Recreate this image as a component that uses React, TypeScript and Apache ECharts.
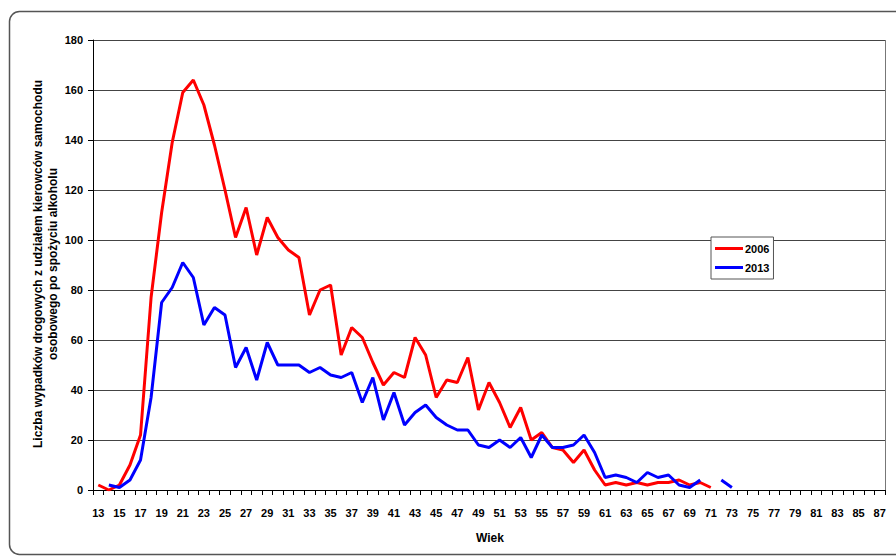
import React, { useEffect, useRef } from "react";
import * as echarts from "echarts";

const ages: string[] = [];
for (let a = 13; a <= 87; a++) ages.push(String(a));

// ages 13..73
const series2006: (number | null)[] = [
  2, 0, 2, 10, 22, 77, 111, 139, 159, 164, 154, 138, 120, 101, 113, 94, 109, 101, 96, 93,
  70, 80, 82, 54, 65, 61, 51, 42, 47, 45, 61, 54, 37, 44, 43, 53, 32, 43, 35, 25,
  33, 20, 23, 17, 16, 11, 16, 8, 2, 3, 2, 3, 2, 3, 3, 4, 2, 3, 1,
];
const series2013: (number | null)[] = [
  null, 2, 1, 4, 12, 37, 75, 81, 91, 85, 66, 73, 70, 49, 57, 44, 59, 50, 50, 50,
  47, 49, 46, 45, 47, 35, 45, 28, 39, 26, 31, 34, 29, 26, 24, 24, 18, 17, 20, 17,
  21, 13, 22, 17, 17, 18, 22, 15, 5, 6, 5, 3, 7, 5, 6, 2, 1, 4, null, 4, 1,
];
const yTicks = { min: 0, max: 180, interval: 20 };
const yTitleLines = [
  "Liczba wypadków drogowych z udziałem kierowców samochodu",
  "osobowego po spożyciu alkoholu",
];
const xTitle = "Wiek";
const legendNames = ["2006", "2013"];

const FONT = "'Liberation Sans', Arial, sans-serif";

export default function App() {
  const ref = useRef<HTMLDivElement>(null);
  useEffect(() => {
    if (!ref.current) return;
    const chart = echarts.init(ref.current, undefined, { renderer: "svg" });
    chart.setOption({
      animation: false,
      backgroundColor: "#ffffff",
      grid: { left: 93, right: 11, top: 40, bottom: 70, containLabel: false },
      legend: {
        data: legendNames,
        orient: "vertical",
        left: 711,
        top: 237,
        width: 64,
        padding: [6, 4, 6, 4],
        itemGap: 8,
        itemWidth: 28,
        itemHeight: 3,
        borderColor: "#555",
        borderWidth: 1,
        backgroundColor: "#fff",
        icon: "rect",
        textStyle: { fontFamily: FONT, fontWeight: "bold", fontSize: 11, color: "#000", padding: [0, 0, 0, -3] },
      },
      xAxis: {
        type: "category",
        data: ages,
        boundaryGap: true,
        axisLine: { lineStyle: { color: "#000", width: 1 } },
        axisTick: { show: true, interval: 0, length: 5, lineStyle: { color: "#000" } },
        axisLabel: {
          interval: 1,
          margin: 17,
          fontFamily: FONT,
          fontWeight: "bold",
          fontSize: 11,
          color: "#000",
        },
        splitLine: { show: false },
      },
      yAxis: {
        type: "value",
        min: yTicks.min,
        max: yTicks.max,
        interval: yTicks.interval,
        axisLine: { show: true, lineStyle: { color: "#000", width: 1 } },
        axisTick: { show: true, length: 5, lineStyle: { color: "#000" } },
        axisLabel: {
          margin: 10,
          fontFamily: FONT,
          fontWeight: "bold",
          fontSize: 11,
          color: "#000",
        },
        splitLine: { show: true, lineStyle: { color: "#444", width: 1 } },
      },
      graphic: [
        {
          type: "rect",
          shape: { x: 9.5, y: 11.5, width: 900, height: 543, r: 10 },
          style: { fill: "none", stroke: "#555", lineWidth: 1.5 },
          silent: true,
        },
        {
          type: "line",
          shape: { x1: 885.5, y1: 40, x2: 885.5, y2: 490 },
          style: { stroke: "#777", lineWidth: 1 },
          silent: true,
        },
        {
          type: "text",
          x: 38,
          y: 264,
          rotation: Math.PI / 2,
          style: {
            text: yTitleLines[0],
            fontFamily: FONT,
            fontWeight: "bold",
            fontSize: 12,
            fill: "#000",
            align: "center",
            verticalAlign: "middle",
          },
        },
        {
          type: "text",
          x: 53,
          y: 264,
          rotation: Math.PI / 2,
          style: {
            text: yTitleLines[1],
            fontFamily: FONT,
            fontWeight: "bold",
            fontSize: 12,
            fill: "#000",
            align: "center",
            verticalAlign: "middle",
          },
        },
        {
          type: "text",
          x: 490,
          y: 538,
          style: {
            text: xTitle,
            fontFamily: FONT,
            fontWeight: "bold",
            fontSize: 12,
            fill: "#000",
            align: "center",
            verticalAlign: "middle",
          },
        },
      ],
      series: [
        {
          name: legendNames[0],
          type: "line",
          data: series2006,
          showSymbol: false,
          symbol: "none",
          connectNulls: false,
          lineStyle: { color: "#ff0000", width: 3 },
          itemStyle: { color: "#ff0000" },
        },
        {
          name: legendNames[1],
          type: "line",
          data: series2013,
          showSymbol: false,
          symbol: "none",
          connectNulls: false,
          lineStyle: { color: "#0000ff", width: 3 },
          itemStyle: { color: "#0000ff" },
        },
      ],
    });
    return () => chart.dispose();
  }, []);
  return (
    <div
      ref={ref}
      style={{ position: "fixed", left: 0, top: 0, width: 896, height: 560, background: "#fff" }}
    />
  );
}
